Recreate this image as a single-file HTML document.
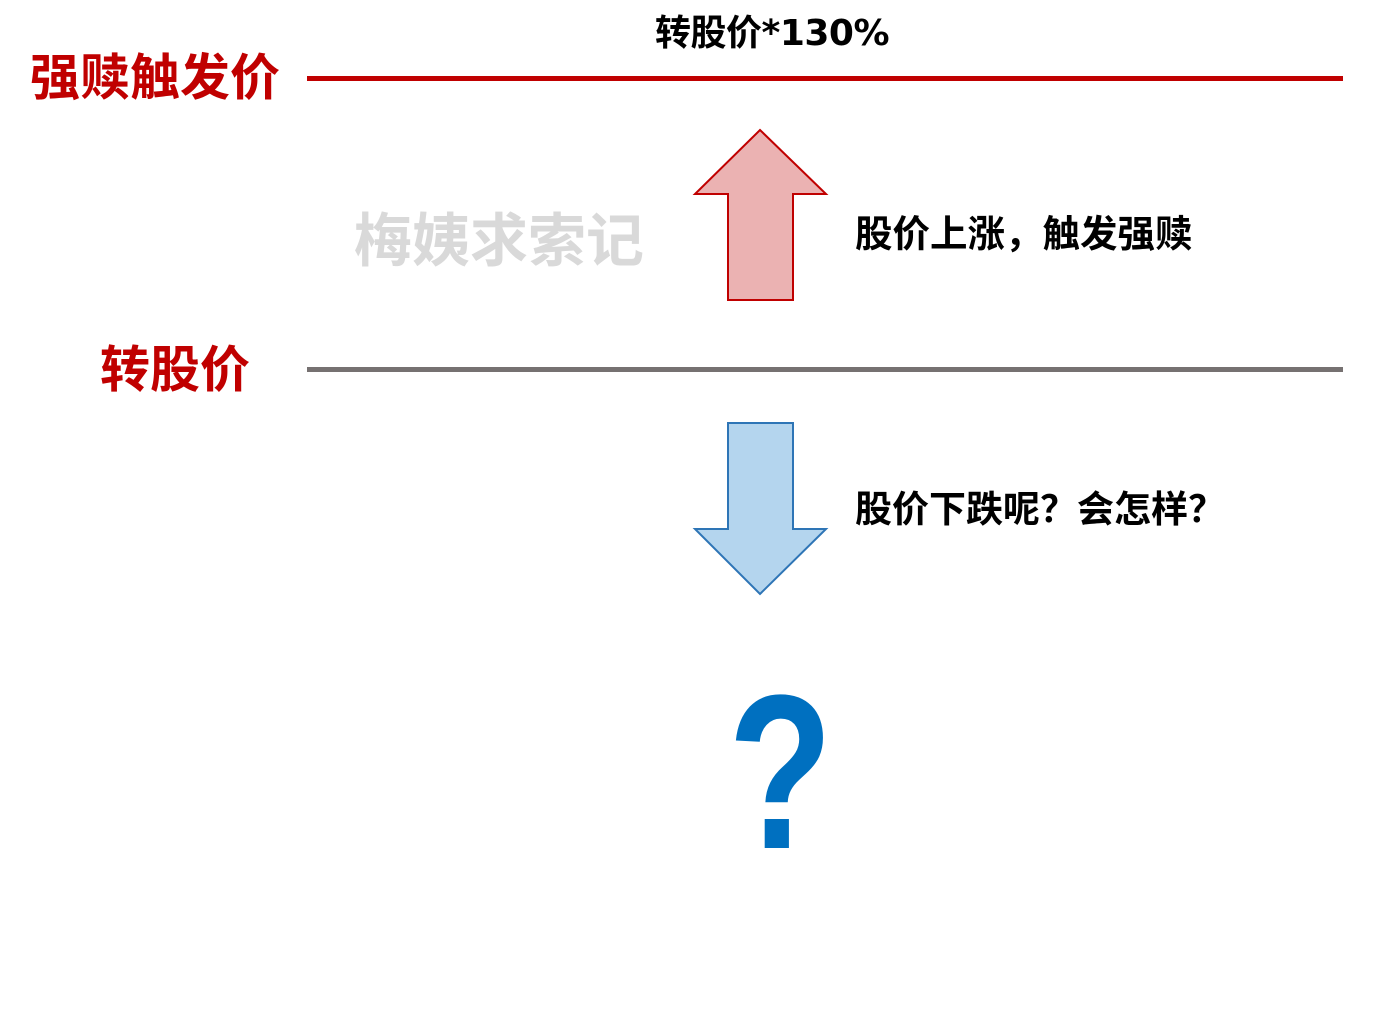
<!DOCTYPE html>
<html><head><meta charset="utf-8"><style>
html,body{margin:0;padding:0;background:#fff;}
body{width:1391px;height:1015px;position:relative;overflow:hidden;font-family:"Liberation Sans","Noto Sans CJK SC",sans-serif;}
.t{position:absolute;white-space:nowrap;font-weight:bold;line-height:1;}
</style></head><body>
<div class="t" style="left:655px;top:16px;font-size:36px;color:#000;font-family:'DejaVu Sans','Noto Sans CJK SC',sans-serif;letter-spacing:-0.5px;">转股价*130%</div>
<div class="t" style="left:30px;top:53px;font-size:50px;color:#c00000;">强赎触发价</div>
<div style="position:absolute;left:307px;top:76px;width:1036px;height:5px;background:#c00000;"></div>
<div class="t" style="left:354px;top:213px;font-size:58px;color:#d9d9d9;">梅姨求索记</div>
<div class="t" style="left:855px;top:216px;font-size:37.5px;color:#000;">股价上涨，触发强赎</div>
<div class="t" style="left:100px;top:345px;font-size:50px;color:#c00000;">转股价</div>
<div style="position:absolute;left:307px;top:367px;width:1036px;height:5px;background:#767171;"></div>
<div class="t" style="left:855px;top:491px;font-size:37px;color:#000;">股价下跌呢？会怎样？</div>
<svg width="1391" height="1015" style="position:absolute;left:0;top:0;">
<polygon points="760,130 826,194 793,194 793,300 728,300 728,194 695,194" fill="#ebb2b2" stroke="#c00000" stroke-width="2"/>
<polygon points="728,423 793,423 793,529 826,529 760,594 695,529 728,529" fill="#b4d5ee" stroke="#2e75b6" stroke-width="2"/>
</svg>
<div class="t" style="left:728px;top:662px;font-size:220px;color:#0070c0;transform:scaleX(0.78);transform-origin:0 0;">?</div>
</body></html>
